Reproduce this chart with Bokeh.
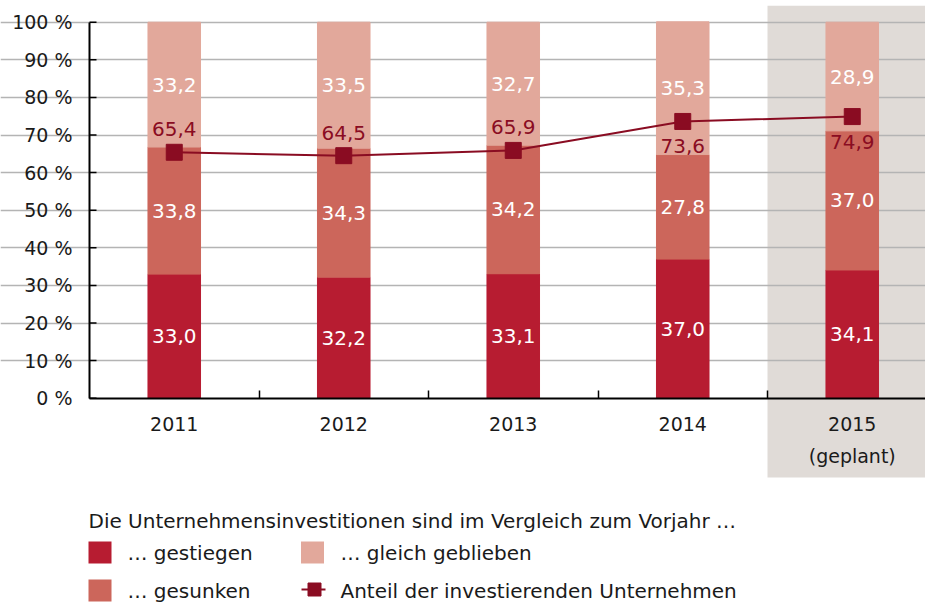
from bokeh.plotting import figure
from bokeh.models import Range1d, FixedTicker, BoxAnnotation, ColumnDataSource
from bokeh.core.properties import value
from bokeh.embed import file_html
from bokeh.resources import INLINE

# ---- data ----
years = ["2011", "2012", "2013", "2014", "2015\n(geplant)"]
gestiegen = [33.0, 32.2, 33.1, 37.0, 34.1]
gesunken = [33.8, 34.3, 34.2, 27.8, 37.0]
gleich = [33.2, 33.5, 32.7, 35.3, 28.9]
anteil = [65.4, 64.5, 65.9, 73.6, 74.9]
y_ticks = [0, 10, 20, 30, 40, 50, 60, 70, 80, 90, 100]
legend_title = "Die Unternehmensinvestitionen sind im Vergleich zum Vorjahr \u2026"
legend_labels = ["\u2026 gestiegen", "\u2026 gleich geblieben", "\u2026 gesunken",
                 "Anteil der investierenden Unternehmen"]

C_UP = "#b71c31"
C_DOWN = "#cc665b"
C_SAME = "#e2a89b"
C_LINE = "#8a0c22"
C_GRAY = "#e0dbd7"
C_TXT = "#1a1a1a"
FONT = "DejaVu Sans"

def de(v):
    return f"{v:.1f}".replace(".", ",")

# ---- layout geometry (pixels) ----
W_FIG, H_FIG = 925, 602
AXIS_L, FRAME_T = 89, 5
PX_UNIT_X = 169.5
Y0_PX, Y100_PX = 397.7, 21.7
PX_UNIT_Y = (Y0_PX - Y100_PX) / 100.0

x_start = -0.5 - AXIS_L / PX_UNIT_X
x_end = x_start + W_FIG / PX_UNIT_X
y_end = 100 + (Y100_PX - FRAME_T) / PX_UNIT_Y
y_start = -(H_FIG - Y0_PX) / PX_UNIT_Y

def px2x(px):
    return x_start + px / PX_UNIT_X

def px2y(py):
    return (Y0_PX - py) / PX_UNIT_Y

x = list(range(len(years)))
b1 = [0] * len(x)
t1 = gestiegen
t2 = [a + b for a, b in zip(t1, gesunken)]
t3 = [a + b for a, b in zip(t2, gleich)]

p = figure(width=W_FIG, height=H_FIG, output_backend="svg", toolbar_location=None,
           x_range=Range1d(x_start, x_end), y_range=Range1d(y_start, y_end),
           min_border_left=0, min_border_right=0, min_border_top=FRAME_T,
           min_border_bottom=0)
p.outline_line_color = None
p.xgrid.visible = False

p.add_layout(BoxAnnotation(left=3.5, bottom=px2y(477), fill_color=C_GRAY, fill_alpha=1.0,
                           line_alpha=0, level="image"))

src = ColumnDataSource(dict(x=x, b1=b1, t1=t1, t2=t2, t3=t3,
                            l1=[de(v) for v in gestiegen],
                            l2=[de(v) for v in gesunken],
                            l3=[de(v) for v in gleich],
                            m1=[(a + b) / 2 for a, b in zip(b1, t1)],
                            m2=[(a + b) / 2 for a, b in zip(t1, t2)],
                            m3=[(a + b) / 2 for a, b in zip(t2, t3)]))
W = 0.31
p.vbar(x="x", bottom="b1", top="t1", width=W, color=C_UP, source=src)
p.vbar(x="x", bottom="t1", top="t2", width=W, color=C_DOWN, source=src)
p.vbar(x="x", bottom="t2", top="t3", width=W, color=C_SAME, source=src)

for m, l in (("m1", "l1"), ("m2", "l2"), ("m3", "l3")):
    p.text(x="x", y=m, text=l, source=src, text_color="white",
           text_font=value(FONT), text_font_size="20px",
           text_align="center", text_baseline="middle")

# line series
p.line(x, anteil, line_color=C_LINE, line_width=2)
p.scatter(x, anteil, marker="square", size=16, fill_color=C_LINE, line_color=C_LINE)
lsrc = ColumnDataSource(dict(x=x, y=anteil, t=[de(v) for v in anteil],
                             off=[-23 if v < 70 else 25 for v in anteil]))
p.text(x="x", y="y", text="t", y_offset="off", source=lsrc, text_color=C_LINE,
       text_font=value(FONT), text_font_size="20px",
       text_align="center", text_baseline="middle")

# y axis (placed at the left category boundary)
p.yaxis.fixed_location = -0.5
p.yaxis.bounds = (0, 100)
p.yaxis.ticker = FixedTicker(ticks=y_ticks)
p.yaxis.major_label_overrides = {t: f"{t} %" for t in y_ticks}
p.yaxis.major_label_text_font = FONT
p.yaxis.major_label_text_font_size = "19px"
p.yaxis.major_label_text_color = C_TXT
p.yaxis.major_label_standoff = 17
p.yaxis.major_tick_in = 0
p.yaxis.major_tick_out = 0
p.yaxis.minor_tick_line_color = None
p.yaxis.axis_line_width = 2
p.yaxis.axis_line_color = "black"

p.ygrid.ticker = FixedTicker(ticks=y_ticks[1:])
p.ygrid.bounds = (-0.5, x_end)
p.ygrid.grid_line_color = "#b4b4b4"
p.ygrid.grid_line_width = 1.5

# inward y tick marks (short black strokes at the start of each gridline)
tick_len = 7 / PX_UNIT_X
p.segment([-0.5] * len(y_ticks), y_ticks, [-0.5 + tick_len] * len(y_ticks), y_ticks,
          line_color="black", line_width=1.5)

# x axis
p.xaxis.fixed_location = 0
p.xaxis.bounds = (-0.5, x_end)
p.xaxis.ticker = FixedTicker(ticks=x, minor_ticks=[i + 0.5 for i in x[:-1]])
p.xaxis.major_label_overrides = {i: y for i, y in zip(x, years)}
p.xaxis.major_label_text_font = FONT
p.xaxis.major_label_text_font_size = "19px"
p.xaxis.major_label_text_color = C_TXT
p.xaxis.major_label_text_line_height = 1.44
p.xaxis.major_label_standoff = 15
p.xaxis.major_tick_in = 0
p.xaxis.major_tick_out = 0
p.xaxis.minor_tick_in = 8
p.xaxis.minor_tick_out = 0
p.xaxis.minor_tick_line_width = 1.5
p.xaxis.minor_tick_line_color = "black"
p.xaxis.axis_line_width = 2
p.xaxis.axis_line_color = "black"

# legend (drawn below the chart)
p.text([px2x(88)], [px2y(520)], text=[legend_title], text_font=value(FONT),
       text_font_size="20px", text_color=C_TXT, text_baseline="middle", text_align="left")
sq_x = [px2x(99.5), px2x(312), px2x(99.5)]
sq_y = [px2y(552), px2y(552), px2y(590)]
p.rect(sq_x, sq_y, width=23, height=22, width_units="screen", height_units="screen",
       fill_color=[C_UP, C_SAME, C_DOWN], line_color=None)
p.segment([px2x(301)], [px2y(589)], [px2x(325)], [px2y(589)], line_color=C_LINE, line_width=2)
p.scatter([px2x(314)], [px2y(589)], marker="square", size=13,
          fill_color=C_LINE, line_color=C_LINE)
p.text([px2x(127), px2x(340), px2x(127), px2x(340)],
       [px2y(552), px2y(552), px2y(590), px2y(590)], text=legend_labels,
       text_font=value(FONT), text_font_size="20px", text_color=C_TXT,
       text_baseline="middle", text_align="left")

open("out.html", "w").write(file_html(p, INLINE))
